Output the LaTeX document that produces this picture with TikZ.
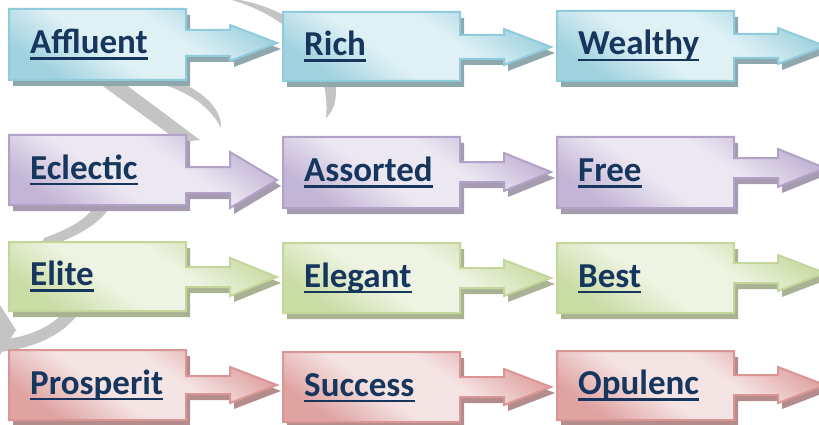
\documentclass[tikz,border=0pt]{standalone}
\usepackage{fontspec}
\setmainfont{Carlito}
\definecolor{txt}{HTML}{17365D}
\definecolor{bdark}{HTML}{A0D2DF}\definecolor{blight}{HTML}{E0F1F6}\definecolor{bbord}{HTML}{8FCBDB}\definecolor{bshad}{HTML}{8FA8AE}
\definecolor{pdark}{HTML}{C3B5D6}\definecolor{plight}{HTML}{ECE8F2}\definecolor{pbord}{HTML}{B3A2C7}\definecolor{pshad}{HTML}{A59CAF}
\definecolor{gdark}{HTML}{CADDA5}\definecolor{glight}{HTML}{EEF4E3}\definecolor{gbord}{HTML}{C3D69B}\definecolor{gshad}{HTML}{A9B393}
\definecolor{rdark}{HTML}{DFA3A2}\definecolor{rlight}{HTML}{F5E4E4}\definecolor{rbord}{HTML}{D99694}\definecolor{rshad}{HTML}{B38C8B}
\definecolor{wm}{HTML}{C4C4C4}
\pgfdeclareverticalshading{bsh}{100bp}{color(0bp)=(bdark); color(25bp)=(bdark); color(42bp)=(blight); color(58bp)=(blight); color(75bp)=(bdark); color(100bp)=(bdark)}
\pgfdeclareverticalshading{psh}{100bp}{color(0bp)=(pdark); color(25bp)=(pdark); color(42bp)=(plight); color(58bp)=(plight); color(75bp)=(pdark); color(100bp)=(pdark)}
\pgfdeclareverticalshading{gsh}{100bp}{color(0bp)=(gdark); color(25bp)=(gdark); color(42bp)=(glight); color(58bp)=(glight); color(75bp)=(gdark); color(100bp)=(gdark)}
\pgfdeclareverticalshading{rsh}{100bp}{color(0bp)=(rdark); color(25bp)=(rdark); color(42bp)=(rlight); color(58bp)=(rlight); color(75bp)=(rdark); color(100bp)=(rdark)}
\tikzset{
  bfill/.style={shading=bsh, shading angle=-35},
  pfill/.style={shading=psh, shading angle=-35},
  gfill/.style={shading=gsh, shading angle=-35},
  rfill/.style={shading=rsh, shading angle=-35},
  bline/.style={draw=bbord, line width=2pt, line join=miter},
  pline/.style={draw=pbord, line width=2pt, line join=miter},
  gline/.style={draw=gbord, line width=2pt, line join=miter},
  rline/.style={draw=rbord, line width=2pt, line join=miter},
  bshadow/.style={fill=bshad},
  pshadow/.style={fill=pshad},
  gshadow/.style={fill=gshad},
  rshadow/.style={fill=rshad},
  lbl/.style={inner sep=0pt, anchor=base west, text=txt, font=\fontsize{35}{37}\selectfont\bfseries},
  uline/.style={draw=txt, line width=2.4pt},
  wmark/.style={fill=wm}
}
% #1 colour prefix, #2 left x, #3 top y, #4 bottom y, #5 tip y, #6 stem half, #7 head half, #8 text, #9 name
\newcommand\abox[9]{%
  \pgfmathsetmacro\xa{#2}\pgfmathsetmacro\xb{#2+177}%
  \pgfmathsetmacro\xs{#2+221}\pgfmathsetmacro\xt{#2+268}%
  \pgfmathsetmacro\yt{-(#3)}\pgfmathsetmacro\ybt{-(#4)}\pgfmathsetmacro\ym{-(#5)}%
  \pgfmathsetmacro\ya{-(#5)+#6}\pgfmathsetmacro\yb{-(#5)-#6}%
  \pgfmathsetmacro\yc{-(#5)+#7}\pgfmathsetmacro\yd{-(#5)-#7}%
  \pgfmathsetmacro\ytx{-((#3+#4)/2+9)}%
  \def\shp{(\xa,\yt) -- (\xb,\yt) -- (\xb,\ya) -- (\xs,\ya) -- (\xs,\yc) -- (\xt,\ym) -- (\xs,\yd) -- (\xs,\yb) -- (\xb,\yb) -- (\xb,\ybt) -- (\xa,\ybt) -- cycle}%
  \fill[#1shadow, xshift=4pt, yshift=-6pt] \shp;
  \shade[#1fill] \shp;
  \draw[#1line] \shp;
  \node[lbl] (#9) at (\xa+21,\ytx) {#8};
  \draw[uline] ([yshift=-5pt]#9.base west) -- ([yshift=-5pt]#9.base east);
}
\begin{document}
\begin{tikzpicture}[x=1pt,y=1pt]
\useasboundingbox (0,-425) rectangle (819,0);
\clip (0,-425) rectangle (819,0);
% watermark swooshes (behind), drawn in flipped coordinates
\begin{scope}[yscale=-1]
\fill[wmark] (240,0) .. controls (290,10) and (335,40) .. (336,90) .. controls (336,105) and (332,112) .. (326,118) .. controls (328,100) and (326,60) .. (290,30) .. controls (275,18) and (258,8) .. (232,0) -- cycle;
\fill[wmark] (100,84) -- (125,84) -- (200,140) -- (180,142) -- cycle;
\fill[wmark] (175,80) .. controls (205,92) and (222,110) .. (221,128) .. controls (212,110) and (195,96) .. (168,86) -- cycle;
\fill[wmark] (112,204) .. controls (100,225) and (75,238) .. (38,250) -- (44,238) .. controls (72,228) and (88,218) .. (96,204) -- cycle;
\fill[wmark] (92,280) .. controls (85,320) and (55,345) .. (0,352) -- (0,340) .. controls (45,335) and (72,315) .. (80,280) -- cycle;
\fill[wmark] (0,305) -- (16,330) -- (0,355) -- cycle;
\end{scope}
% row 1
\abox{b}{9}{9}{80}{43}{13}{18}{Affluent}{t11}
\abox{b}{283}{12}{81}{47}{12}{18}{Rich}{t12}
\abox{b}{557}{11}{81}{46}{12}{18}{Wealthy}{t13}
% row 2
\abox{p}{9}{135}{205}{180}{13}{28}{Eclectic}{t21}
\abox{p}{283}{137}{208}{172}{10}{19}{Assorted}{t22}
\abox{p}{557}{137}{208}{168}{10}{19}{Free}{t23}
% row 3
\abox{g}{9}{242}{311}{277}{10}{19}{Elite}{t31}
\abox{g}{283}{243}{313}{278}{10}{18}{Elegant}{t32}
\abox{g}{557}{243}{313}{273}{10}{18}{Best}{t33}
% row 4
\abox{r}{9}{350}{420}{385}{9}{18}{Prosperit}{t41}
\abox{r}{283}{352}{422}{387}{10}{18}{Success}{t42}
\abox{r}{557}{351}{420}{385}{10}{18}{Opulenc}{t43}
\end{tikzpicture}
\end{document}
